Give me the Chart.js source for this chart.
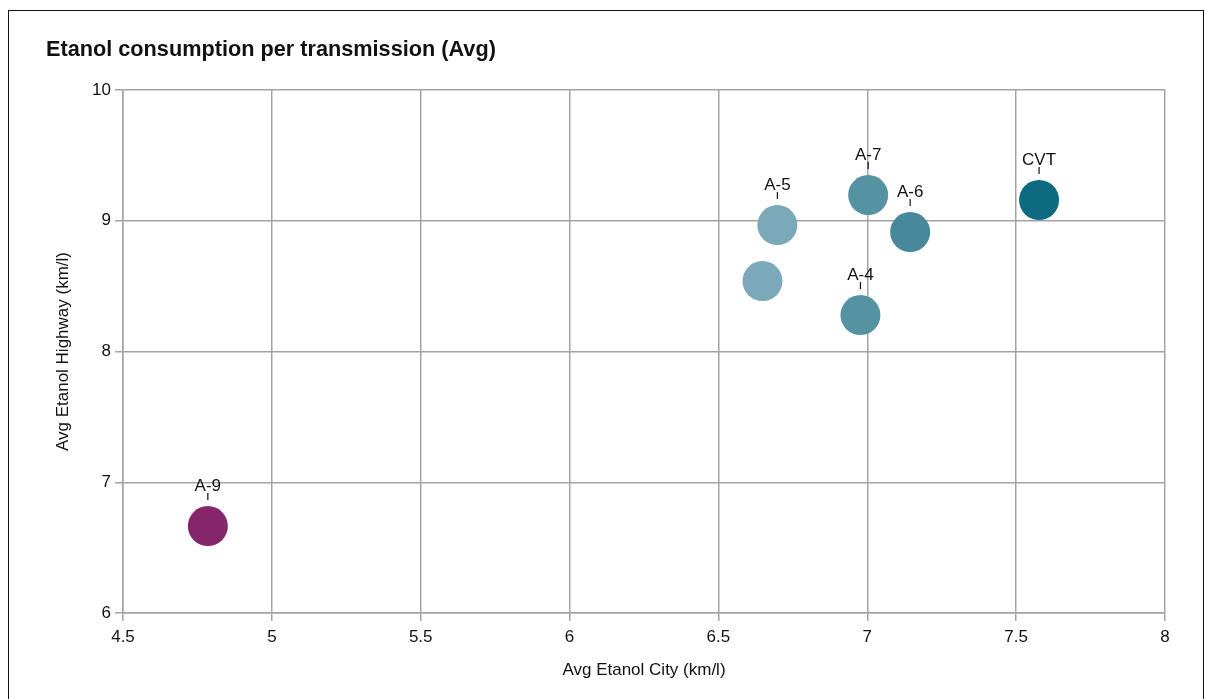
<!DOCTYPE html>
<html>
<head>
<meta charset="utf-8">
<script src="https://cdn.jsdelivr.net/npm/chart.js@4"></script>
<style>
  body { margin: 0; background: #fff; }
  #wrap { position: relative; width: 1205px; height: 699px; overflow: hidden; }
  #frame { position: absolute; left: 8px; top: 10px; width: 1196px; height: 720px;
           border: 1.5px solid #111; box-sizing: border-box; pointer-events: none; }
</style>
</head>
<body>
<div id="wrap">
  <canvas id="chart" width="1205" height="699"></canvas>
  <div id="frame"></div>
</div>
<script>
const labels = ["A-9", "", "A-5", "A-4", "A-7", "A-6", "CVT"];
const cityValues = [4.785, 6.648, 6.698, 6.977, 7.003, 7.144, 7.577];
const highwayValues = [6.665, 8.539, 8.967, 8.279, 9.197, 8.914, 9.159];
const pointColors = ["#85266a", "#7ba9b9", "#7ba9b9", "#5592a2", "#5592a2", "#47899a", "#0d6a80"];

const FONT = "'Liberation Sans Narrow', 'Arial Narrow', 'Liberation Sans', Arial, sans-serif";

const pointLabels = {
  id: "pointLabels",
  afterDatasetsDraw(chart) {
    const ctx = chart.ctx;
    const meta = chart.getDatasetMeta(0);
    ctx.save();
    ctx.font = "17px " + FONT;
    ctx.fillStyle = "#111";
    ctx.strokeStyle = "#111";
    ctx.lineWidth = 1.2;
    ctx.textAlign = "center";
    ctx.textBaseline = "alphabetic";
    meta.data.forEach((pt, i) => {
      if (!labels[i]) return;
      const r = 20;
      ctx.beginPath();
      ctx.moveTo(pt.x, pt.y - r - 13);
      ctx.lineTo(pt.x, pt.y - r - 6);
      ctx.stroke();
      ctx.fillText(labels[i], pt.x, pt.y - r - 15);
    });
    ctx.restore();
  }
};

new Chart(document.getElementById("chart"), {
  type: "scatter",
  data: {
    datasets: [{
      data: cityValues.map((x, i) => ({ x: x, y: highwayValues[i] })),
      pointRadius: 20,
      pointHoverRadius: 20,
      pointBackgroundColor: pointColors,
      pointBorderWidth: 0
    }]
  },
  options: {
    responsive: false,
    animation: false,
    layout: { padding: { left: 46, right: 40, top: 37, bottom: 0 } },
    plugins: {
      legend: { display: false },
      tooltip: { enabled: false },
      title: {
        display: true,
        text: "Etanol consumption per transmission (Avg)",
        align: "start",
        color: "#111",
        font: { family: "'Liberation Sans', Arial, sans-serif", size: 21.7, weight: "bold" },
        padding: { top: 0, bottom: 27 }
      }
    },
    scales: {
      x: {
        type: "linear",
        min: 4.5,
        max: 8,
        ticks: { stepSize: 0.5, color: "#111", font: { family: FONT, size: 17 }, padding: 6,
                 callback: v => String(v) },
        grid: { color: "#a3a3a3", lineWidth: 1.5, tickLength: 8 },
        border: { color: "#a3a3a3", width: 1.5 },
        title: {
          display: true,
          text: "Avg Etanol City (km/l)",
          color: "#111",
          font: { family: FONT, size: 17 },
          padding: { top: 4, bottom: 18 }
        },
        afterFit(scale) { scale.height = 86; }
      },
      y: {
        type: "linear",
        min: 6,
        max: 10,
        ticks: { stepSize: 1, color: "#111", font: { family: FONT, size: 17 }, padding: 4,
                 callback: v => String(v) },
        grid: { color: "#a3a3a3", lineWidth: 1.5, tickLength: 8 },
        border: { color: "#a3a3a3", width: 1.5 },
        title: {
          display: true,
          text: "Avg Etanol Highway (km/l)",
          color: "#111",
          font: { family: FONT, size: 17 },
          padding: { top: 7, bottom: 4 }
        },
        afterFit(scale) { scale.width = 77; }
      }
    }
  },
  plugins: [pointLabels]
});
</script>
</body>
</html>
